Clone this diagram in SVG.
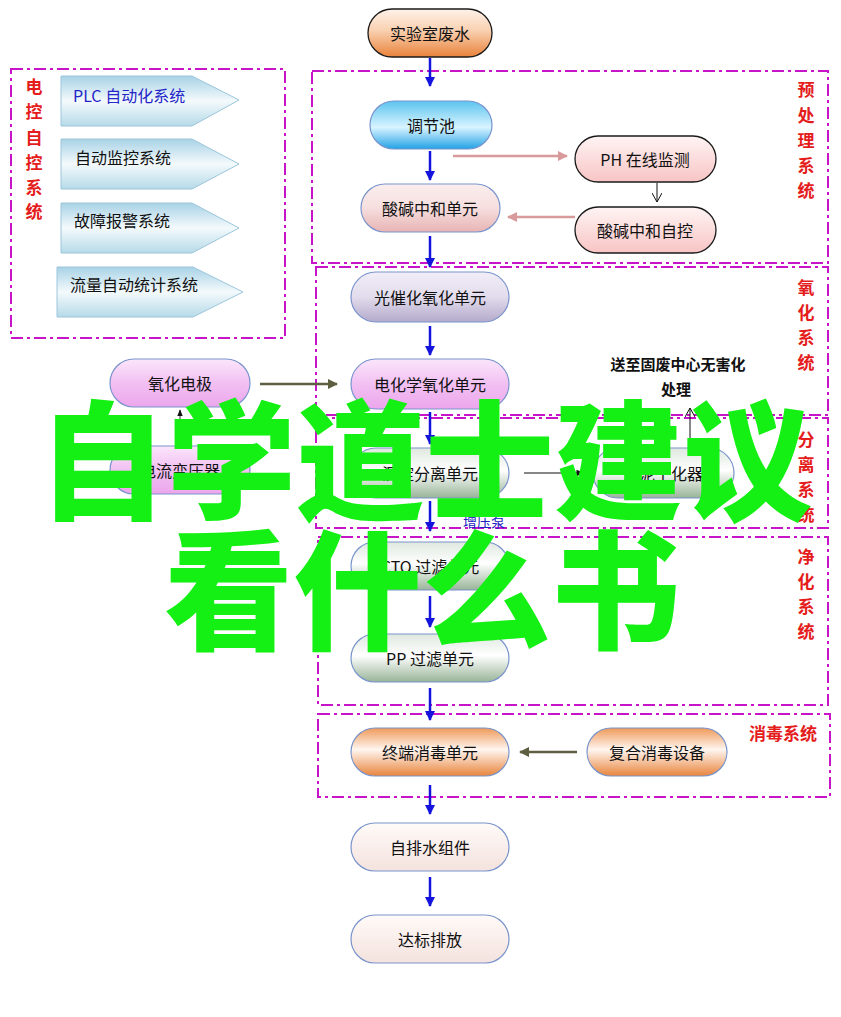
<svg xmlns="http://www.w3.org/2000/svg" width="841" height="1017" viewBox="0 0 841 1017">
<defs>
<linearGradient id="gOrangeTop" x1="0" y1="0" x2="0" y2="1"><stop offset="0" stop-color="#fff2ea"/><stop offset="0.45" stop-color="#f9d0b0"/><stop offset="1" stop-color="#e8823a"/></linearGradient>
<linearGradient id="gOrange" x1="0" y1="0" x2="0" y2="1"><stop offset="0" stop-color="#ef9a5a"/><stop offset="0.45" stop-color="#fff6f0"/><stop offset="1" stop-color="#e8843c"/></linearGradient>
<linearGradient id="gCyan" x1="0" y1="0" x2="0" y2="1"><stop offset="0" stop-color="#5cc4f0"/><stop offset="0.55" stop-color="#d8f4ff"/><stop offset="1" stop-color="#22a2e6"/></linearGradient>
<linearGradient id="gPink" x1="0" y1="0" x2="0" y2="1"><stop offset="0" stop-color="#fbeeee"/><stop offset="0.5" stop-color="#f6dede"/><stop offset="1" stop-color="#e8b4b4"/></linearGradient>
<linearGradient id="gPinkB" x1="0" y1="0" x2="0" y2="1"><stop offset="0" stop-color="#fff4f4"/><stop offset="1" stop-color="#f8c4c4"/></linearGradient>
<linearGradient id="gLav" x1="0" y1="0" x2="0" y2="1"><stop offset="0" stop-color="#f2eef8"/><stop offset="0.5" stop-color="#e2dcec"/><stop offset="1" stop-color="#b4aacc"/></linearGradient>
<linearGradient id="gMag" x1="0" y1="0" x2="0" y2="1"><stop offset="0" stop-color="#fbe6fb"/><stop offset="0.5" stop-color="#f2c0f2"/><stop offset="1" stop-color="#eca6ec"/></linearGradient>
<linearGradient id="gGreen" x1="0" y1="0" x2="0" y2="1"><stop offset="0" stop-color="#dfe8df"/><stop offset="0.45" stop-color="#ffffff"/><stop offset="1" stop-color="#98b498"/></linearGradient>
<linearGradient id="gWhite" x1="0" y1="0" x2="0" y2="1"><stop offset="0" stop-color="#fffaf8"/><stop offset="1" stop-color="#f4e2de"/></linearGradient>
<linearGradient id="gPent" x1="0" y1="0" x2="0" y2="1"><stop offset="0" stop-color="#a8d2e6"/><stop offset="0.5" stop-color="#f4fafc"/><stop offset="1" stop-color="#b6dae8"/></linearGradient>
<marker id="mBlue" viewBox="0 0 10 10" refX="9" refY="5" markerWidth="4" markerHeight="4" orient="auto" markerUnits="strokeWidth"><path d="M0,0 L10,5 L0,10 z" fill="#1414dc"/></marker>
<marker id="mPinkA" viewBox="0 0 10 10" refX="9" refY="5" markerWidth="4" markerHeight="4" orient="auto" markerUnits="strokeWidth"><path d="M0,0 L10,5 L0,10 z" fill="#d89a9a"/></marker>
<marker id="mOlive" viewBox="0 0 10 10" refX="9" refY="5" markerWidth="4" markerHeight="4" orient="auto" markerUnits="strokeWidth"><path d="M0,0 L10,5 L0,10 z" fill="#5e5e40"/></marker>
<marker id="mBlack" viewBox="0 0 10 10" refX="9" refY="5" markerWidth="7" markerHeight="7" orient="auto" markerUnits="strokeWidth"><path d="M0,1 L10,5 L0,9 z" fill="#111"/></marker>
<marker id="mOpen" viewBox="0 0 10 10" refX="10" refY="5" markerWidth="10" markerHeight="10" orient="auto" markerUnits="strokeWidth"><path d="M1,0 L10,5 L1,10" fill="none" stroke="#111" stroke-width="1"/></marker>
</defs>
<style>
.box{fill:none;stroke:#c814c8;stroke-width:2;stroke-dasharray:12 4 3 4}
.nd{stroke:#7a94cc;stroke-width:1.2}
.nk{stroke:#1a1a1a;stroke-width:1.3}
.t{font-family:"Noto Sans CJK SC","Liberation Sans",sans-serif;font-size:16px;fill:#111;text-anchor:middle;dominant-baseline:central}
.tl{font-family:"Noto Sans CJK SC","Liberation Sans",sans-serif;font-size:16px;fill:#111}
.red{font-family:"Noto Sans CJK SC",serif;font-size:17px;font-weight:700;fill:#e41c1c;text-anchor:middle}
.blu{stroke:#1414dc;stroke-width:2.5;fill:none;marker-end:url(#mBlue)}
.pent{fill:url(#gPent);stroke:#9cc6dc;stroke-width:1}
.big{font-family:"Noto Sans CJK SC",sans-serif;font-weight:900;font-size:129px;fill:#14f014;text-anchor:middle}
</style>
<rect width="841" height="1017" fill="#fff"/>

<g id="groups">
<rect class="box" x="11" y="69" width="274" height="269"/>
<rect class="box" x="312" y="71" width="516" height="192"/>
<rect class="box" x="316" y="267" width="512" height="148"/>
<rect class="box" x="316" y="418" width="512" height="110"/>
<rect class="box" x="318" y="537" width="510" height="168"/>
<rect class="box" x="318" y="714" width="512" height="83"/>
<text class="red" x="34" y="93">电</text>
<text class="red" x="34" y="118">控</text>
<text class="red" x="34" y="144">自</text>
<text class="red" x="34" y="169">控</text>
<text class="red" x="34" y="194">系</text>
<text class="red" x="34" y="218">统</text>
<text class="red" x="806" y="96">预</text>
<text class="red" x="806" y="122">处</text>
<text class="red" x="806" y="147">理</text>
<text class="red" x="806" y="172">系</text>
<text class="red" x="806" y="197">统</text>
<text class="red" x="806" y="294">氧</text>
<text class="red" x="806" y="319">化</text>
<text class="red" x="806" y="344">系</text>
<text class="red" x="806" y="369">统</text>
<text class="red" x="806" y="446">分</text>
<text class="red" x="806" y="471">离</text>
<text class="red" x="806" y="496">系</text>
<text class="red" x="806" y="521">统</text>
<text class="red" x="806" y="563">净</text>
<text class="red" x="806" y="588">化</text>
<text class="red" x="806" y="613">系</text>
<text class="red" x="806" y="638">统</text>
<text class="red" x="783" y="740">消毒系统</text>
</g>

<g id="ctrl">
<g id="plc"><polygon class="pent" points="61,76 192,76 239,100 192,126 61,126"/><text class="tl" x="73" y="102" fill="#2424c8" style="fill:#2424c8">PLC 自动化系统</text></g>
<g id="monitor"><polygon class="pent" points="61,139 192,139 239,164 192,189 61,189"/><text class="tl" x="75" y="164">自动监控系统</text></g>
<g id="alarm"><polygon class="pent" points="61,203 192,203 239,228 192,253 61,253"/><text class="tl" x="74" y="227">故障报警系统</text></g>
<g id="flow"><polygon class="pent" points="57,267 193,267 243,292 193,317 57,317"/><text class="tl" x="70" y="291">流量自动统计系统</text></g>
</g>

<g id="connectors">
<line class="blu" x1="430" y1="58" x2="430" y2="86"/>
<line class="blu" x1="430" y1="151" x2="430" y2="180"/>
<line class="blu" x1="430" y1="236" x2="430" y2="267"/>
<line class="blu" x1="430" y1="326" x2="430" y2="355"/>
<line class="blu" x1="430" y1="412" x2="430" y2="444"/>
<line class="blu" x1="430" y1="501" x2="430" y2="531"/>
<line class="blu" x1="430" y1="596" x2="430" y2="627"/>
<line class="blu" x1="430" y1="688" x2="430" y2="720"/>
<line class="blu" x1="430" y1="785" x2="430" y2="814"/>
<line class="blu" x1="430" y1="877" x2="430" y2="906"/>
<line x1="453" y1="156" x2="567" y2="156" stroke="#d89a9a" stroke-width="2.5" marker-end="url(#mPinkA)"/>
<line x1="575" y1="217" x2="508" y2="217" stroke="#d89a9a" stroke-width="2.5" marker-end="url(#mPinkA)"/>
<line x1="657" y1="183" x2="657" y2="202" stroke="#111" stroke-width="1" marker-end="url(#mOpen)"/>
<line x1="260" y1="384" x2="337" y2="384" stroke="#5e5e40" stroke-width="2.5" marker-end="url(#mOlive)"/>
<line x1="180" y1="446" x2="180" y2="410" stroke="#333" stroke-width="1" marker-end="url(#mBlack)"/>
<line x1="524" y1="473" x2="584" y2="473" stroke="#111" stroke-width="1.2" marker-end="url(#mBlack)"/>
<line x1="690" y1="447" x2="690" y2="408" stroke="#111" stroke-width="1" marker-end="url(#mOpen)"/>
<line x1="577" y1="752" x2="520" y2="752" stroke="#5e5e40" stroke-width="2.5" marker-end="url(#mOlive)"/>
</g>

<g id="n-waste"><rect class="nk" x="368" y="9" width="124" height="48" rx="24" fill="url(#gOrangeTop)"/><text class="t" x="430" y="33">实验室废水</text></g>
<g id="n-tank"><rect class="nd" x="370" y="101" width="122" height="48" rx="24" fill="url(#gCyan)"/><text class="t" x="431" y="125">调节池</text></g>
<g id="n-neutral"><rect class="nd" x="361" y="184" width="139" height="48" rx="24" fill="url(#gPink)"/><text class="t" x="430" y="208">酸碱中和单元</text></g>
<g id="n-ph"><rect class="nk" x="575" y="136" width="141" height="46" rx="23" fill="url(#gPinkB)"/><text class="t" x="645" y="159">PH 在线监测</text></g>
<g id="n-auto"><rect class="nk" x="575" y="207" width="141" height="46" rx="23" fill="url(#gPinkB)"/><text class="t" x="645" y="230">酸碱中和自控</text></g>
<g id="n-photo"><rect class="nd" x="351" y="272" width="158" height="50" rx="25" fill="url(#gLav)"/><text class="t" x="430" y="297">光催化氧化单元</text></g>
<g id="n-echem"><rect class="nd" x="351" y="359" width="158" height="50" rx="25" fill="url(#gMag)"/><text class="t" x="430" y="384">电化学氧化单元</text></g>
<g id="n-electrode"><rect class="nd" x="110" y="359" width="140" height="48" rx="24" fill="url(#gMag)"/><text class="t" x="180" y="383">氧化电极</text></g>
<g id="n-transformer"><rect class="nd" x="110" y="446" width="140" height="48" rx="24" fill="url(#gMag)"/><text class="t" x="180" y="470">电流变压器</text></g>
<g id="n-settle"><rect class="nd" x="351" y="448" width="158" height="50" rx="25" fill="url(#gGreen)"/><text class="t" x="430" y="473">沉淀分离单元</text></g>
<g id="n-dryer"><rect class="nd" x="593" y="448" width="141" height="50" rx="25" fill="url(#gGreen)"/><text class="t" x="663" y="473">污泥干化器</text></g>
<g id="n-waste-out"><text class="tl" x="678" y="370" text-anchor="middle" style="font-weight:700;font-size:15px">送至固废中心无害化</text><text class="tl" x="676" y="395" text-anchor="middle" style="font-weight:700;font-size:15px">处理</text></g>
<text class="tl" x="484" y="527" text-anchor="middle" style="fill:#2020c0;font-size:14px">增压泵</text>
<g id="n-cto"><rect class="nd" x="351" y="542" width="158" height="48" rx="24" fill="url(#gGreen)"/><text class="t" x="430" y="566">CTO 过滤单元</text></g>
<g id="n-pp"><rect class="nd" x="351" y="634" width="158" height="48" rx="24" fill="url(#gGreen)"/><text class="t" x="430" y="658">PP 过滤单元</text></g>
<g id="n-disinfect"><rect class="nd" x="351" y="728" width="158" height="48" rx="24" fill="url(#gOrange)"/><text class="t" x="430" y="752">终端消毒单元</text></g>
<g id="n-compound"><rect class="nd" x="587" y="728" width="140" height="48" rx="24" fill="url(#gOrange)"/><text class="t" x="657" y="752">复合消毒设备</text></g>
<g id="n-drain"><rect class="nd" x="351" y="823" width="158" height="48" rx="24" fill="url(#gWhite)"/><text class="t" x="430" y="847">自排水组件</text></g>
<g id="n-discharge"><rect class="nd" x="351" y="915" width="158" height="48" rx="24" fill="url(#gWhite)"/><text class="t" x="430" y="939">达标排放</text></g>

<g id="overlay">
<text class="big" x="425" y="510">自学道士建议</text>
<text class="big" x="422" y="640">看什么书</text>
</g>
</svg>
